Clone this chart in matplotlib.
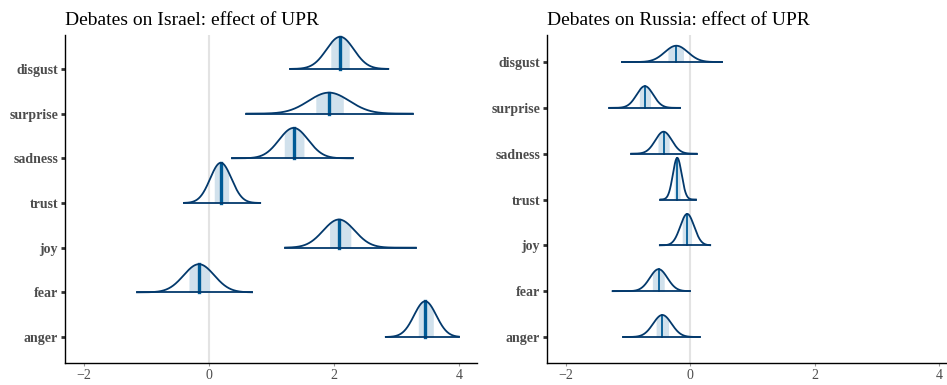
import numpy as np
import matplotlib
matplotlib.use("Agg")
import matplotlib.pyplot as plt

plt.rcParams['font.family'] = ['Liberation Serif', 'DejaVu Serif']

# emotions, top to bottom as shown
emotions = ["disgust", "surprise", "sadness", "trust", "joy", "fear", "anger"]

# Israel: posterior summaries
isr_median = [2.10, 1.92, 1.355, 0.19, 2.08, -0.16, 3.46]
isr_in_lo = [1.95, 1.71, 1.205, 0.085, 1.93, -0.32, 3.35]
isr_in_hi = [2.245, 2.15, 1.52, 0.315, 2.27, 0.01, 3.59]
isr_out_lo = [1.30, 0.60, 0.37, -0.40, 1.22, -1.15, 2.83]
isr_out_hi = [2.87, 3.26, 2.30, 0.82, 3.31, 0.69, 4.00]
isr_peak = [0.72, 0.47, 0.68, 0.90, 0.63, 0.63, 0.80]

# Russia
rus_median = [-0.225, -0.73, -0.43, -0.21, -0.05, -0.51, -0.45]
rus_in_lo = [-0.36, -0.82, -0.52, -0.26, -0.13, -0.61, -0.55]
rus_in_hi = [-0.11, -0.64, -0.34, -0.165, 0.02, -0.42, -0.35]
rus_out_lo = [-1.10, -1.30, -0.95, -0.48, -0.49, -1.25, -1.08]
rus_out_hi = [0.51, -0.165, 0.10, 0.09, 0.32, -0.01, 0.15]
rus_peak = [0.356, 0.474, 0.48, 0.91, 0.686, 0.48, 0.48]

x_ticks = [-2, 0, 2, 4]

# bayesplot "blue" scheme
c_light = "#d1e1ec"
c_mid = "#005b96"
c_dark = "#03396c"


def draw_areas(ax, title, med, in_lo, in_hi, out_lo, out_hi, peak, ylim, xlim, med_lw):
    ax.axvline(0, color="#e3e3e3", lw=1.5, zorder=0)
    n = len(emotions)
    for i in range(n):
        base = n - i
        sd = (in_hi[i] - in_lo[i]) / 1.349
        x = np.linspace(out_lo[i], out_hi[i], 300)
        y = base + peak[i] * np.exp(-0.5 * ((x - med[i]) / sd) ** 2)
        xi = np.linspace(in_lo[i], in_hi[i], 100)
        yi = base + peak[i] * np.exp(-0.5 * ((xi - med[i]) / sd) ** 2)
        ax.fill_between(xi, base, yi, color=c_light, lw=0, zorder=1)
        ax.plot([med[i], med[i]], [base, base + peak[i]], color=c_mid, lw=med_lw, zorder=2)
        ax.plot(x, y, color=c_dark, lw=1.3, zorder=3)
        ax.plot([out_lo[i], out_hi[i]], [base, base], color=c_dark, lw=1.3, zorder=3)

    ax.set_xlim(xlim)
    ax.set_ylim(ylim)
    ax.set_xticks(x_ticks)
    ax.set_yticks(range(n, 0, -1))
    ax.set_yticklabels(emotions, fontweight="bold", color="#4d4d4d", fontsize=10)
    for lab in ax.get_xticklabels():
        lab.set_color("#4d4d4d")
        lab.set_fontsize(10)
    ax.tick_params(axis='y', length=3, width=2, color="#333333", pad=2)
    ax.tick_params(axis='x', length=2, width=0.8, color="#999999", pad=2)
    ax.spines['top'].set_visible(False)
    ax.spines['right'].set_visible(False)
    ax.spines['left'].set_linewidth(1.0)
    ax.spines['bottom'].set_linewidth(1.0)
    ax.set_title(title, loc='left', fontsize=14, pad=7)


fig = plt.figure(figsize=(9.47, 3.85), dpi=100)
ax1 = fig.add_axes([0.0686, 0.0571, 0.435, 0.852])
ax2 = fig.add_axes([0.5776, 0.0571, 0.4224, 0.852])

draw_areas(ax1, "Debates on Israel: effect of UPR", isr_median, isr_in_lo, isr_in_hi,
           isr_out_lo, isr_out_hi, isr_peak, (0.418, 7.76), (-2.304, 4.288), 2.4)
draw_areas(ax2, "Debates on Russia: effect of UPR", rus_median, rus_in_lo, rus_in_hi,
           rus_out_lo, rus_out_hi, rus_peak, (0.432, 7.59), (-2.305, 4.128), 1.3)

plt.savefig("out.png", dpi=100)
